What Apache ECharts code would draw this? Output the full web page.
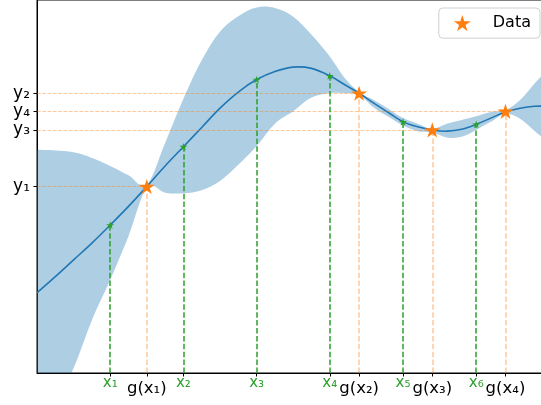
<!DOCTYPE html>
<html>
<head>
<meta charset="utf-8">
<script src="https://cdn.jsdelivr.net/npm/echarts@6/dist/echarts.min.js"></script>
<style>
  html, body { margin: 0; padding: 0; background: #fff; }
  #chart { width: 541px; height: 405px; }
</style>
</head>
<body>
<div id="chart"></div>
<script>
// Gaussian-process posterior: sample grid, mean and confidence band
const gpX     = [0, 0.25, 0.5, 0.75, 1, 1.25, 1.5, 1.75, 2, 2.25, 2.5, 2.75, 3, 3.25, 3.5, 3.75, 4, 4.2, 4.4, 4.6, 4.8, 5, 5.2, 5.4, 5.6, 5.8, 6, 6.2, 6.4, 6.6, 6.8, 7];
const gpMean  = [-1.71, -1.45, -1.18, -0.91, -0.62, -0.32, 0.00, 0.33, 0.64, 0.95, 1.26, 1.52, 1.72, 1.85, 1.92, 1.90, 1.78, 1.64, 1.50, 1.34, 1.19, 1.04, 0.96, 0.91, 0.89, 0.92, 1.00, 1.10, 1.20, 1.26, 1.29, 1.29];
const gpUpper = [0.59, 0.58, 0.55, 0.46, 0.33, 0.18, 0.03, 0.70, 1.41, 2.03, 2.49, 2.74, 2.88, 2.87, 2.73, 2.44, 2.09, 1.75, 1.52, 1.39, 1.25, 1.10, 1.01, 0.93, 1.01, 1.07, 1.13, 1.20, 1.23, 1.39, 1.66, 1.91];
const gpLower = [-4.01, -3.48, -2.92, -2.15, -1.50, -0.80, -0.03, -0.10, -0.11, -0.06, 0.09, 0.35, 0.65, 1.01, 1.21, 1.43, 1.50, 1.50, 1.47, 1.27, 1.12, 0.98, 0.89, 0.87, 0.79, 0.80, 0.91, 1.04, 1.17, 1.09, 0.89, 0.70];

// Query points x1..x6 on the mean curve
const queryX = [1, 2, 3, 4, 5, 6];
const queryY = [-0.62, 0.64, 1.72, 1.78, 1.04, 1.00];
const queryLabels = ['x\u2081', 'x\u2082', 'x\u2083', 'x\u2084', 'x\u2085', 'x\u2086'];

// Observed data g(x_i) = y_i
const dataX = [1.5, 4.4, 5.4, 6.4];
const dataY = [0.00, 1.50, 0.91, 1.21];
const dataXLabels = ['g(x\u2081)', 'g(x\u2082)', 'g(x\u2083)', 'g(x\u2084)'];
const dataYLabels = ['y\u2081', 'y\u2082', 'y\u2083', 'y\u2084'];

const X_MIN = 0, X_MAX = 7, Y_MIN = -3, Y_MAX = 3;

const BLUE = '#1f77b4', ORANGE = '#ff7f0e', GREEN = '#2ca02c';
const FONT = 'DejaVu Sans';

// five-pointed star marker
function starPath() {
  const R = 10, r = R * 0.381966;
  let d = '';
  for (let i = 0; i < 10; i++) {
    const a = -Math.PI / 2 + i * Math.PI / 5;
    const rad = i % 2 ? r : R;
    d += (i ? 'L' : 'M') + (R + rad * Math.cos(a)).toFixed(3) + ' ' + (R + rad * Math.sin(a)).toFixed(3);
  }
  return 'path://' + d + 'Z';
}
const STAR = starPath();

const near = (a, b) => Math.abs(a - b) < 1e-6;

const xTickValues = queryX.concat(dataX).sort((a, b) => a - b);

function xLabel(v) {
  let i = queryX.findIndex(q => near(q, v));
  if (i >= 0) return '{q|' + queryLabels[i] + '}';
  i = dataX.findIndex(q => near(q, v));
  if (i >= 0) return '{d|' + dataXLabels[i] + '}';
  return '';
}
function yLabel(v) {
  const i = dataY.findIndex(q => near(q, v));
  return i >= 0 ? dataYLabels[i] : '';
}

const bandRows = gpX.map((x, i) => [x, gpLower[i], gpUpper[i]]);

// smooth cubic segments through a list of pixel points
function smoothSegments(pts) {
  const t = 0.18;
  let d = '';
  for (let i = 0; i < pts.length - 1; i++) {
    const p0 = pts[Math.max(0, i - 1)], p1 = pts[i], p2 = pts[i + 1], p3 = pts[Math.min(pts.length - 1, i + 2)];
    const c1 = [p1[0] + (p2[0] - p0[0]) * t, p1[1] + (p2[1] - p0[1]) * t];
    const c2 = [p2[0] - (p3[0] - p1[0]) * t, p2[1] - (p3[1] - p1[1]) * t];
    d += 'C' + c1[0].toFixed(2) + ' ' + c1[1].toFixed(2) + ' ' + c2[0].toFixed(2) + ' ' + c2[1].toFixed(2) +
      ' ' + p2[0].toFixed(2) + ' ' + p2[1].toFixed(2);
  }
  return d;
}

// confidence band as one closed outline: upper edge forward, lower edge back
function renderBand(params, api) {
  if (params.dataIndex !== 0) return null;
  const upper = bandRows.map(r => api.coord([r[0], r[2]]));
  const lower = bandRows.map(r => api.coord([r[0], r[1]])).reverse();
  const d = 'M' + upper[0][0] + ' ' + upper[0][1] + smoothSegments(upper) +
    'L' + lower[0][0] + ' ' + lower[0][1] + smoothSegments(lower) + 'Z';
  return {
    type: 'path',
    shape: { pathData: d },
    style: { fill: 'rgba(31,119,180,0.36)', stroke: null }
  };
}

// posterior mean drawn with the same smoothing as the band
function renderMean(params, api) {
  if (params.dataIndex !== 0) return null;
  const pts = gpX.map((x, i) => api.coord([x, gpMean[i]]));
  return {
    type: 'path',
    shape: { pathData: 'M' + pts[0][0] + ' ' + pts[0][1] + smoothSegments(pts) },
    style: { fill: null, stroke: BLUE, lineWidth: 1.6, lineJoin: 'round' }
  };
}

const greenVerticals = queryX.map((x, i) => [{ coord: [x, Y_MIN] }, { coord: [x, queryY[i]] }]);
const orangeVerticals = dataX.map((x, i) => [{ coord: [x, Y_MIN] }, { coord: [x, dataY[i]] }]);
const orangeHorizontals = dataX.map((x, i) => [{ coord: [X_MIN, dataY[i]] }, { coord: [x, dataY[i]] }]);

function guide(name, lines, color, width, dash) {
  return {
    name, type: 'scatter', data: [], z: 3, silent: true,
    markLine: {
      silent: true, symbol: ['none', 'none'], animation: false,
      label: { show: false },
      emphasis: { disabled: true },
      lineStyle: { color, width, type: dash, opacity: 1 },
      data: lines
    }
  };
}

const chart = echarts.init(document.getElementById('chart'), null, { renderer: 'canvas' });
chart.setOption({
  animation: false,
  backgroundColor: '#fff',
  textStyle: { fontFamily: FONT },
  grid: {
    left: 37, top: 0, width: 512.4, height: 373,
    outerBoundsMode: 'none', containLabel: false,
    show: true, borderColor: '#000', borderWidth: 1, backgroundColor: 'transparent'
  },
  legend: {
    data: [{ name: 'Data', icon: STAR }],
    right: 1, top: 8,
    orient: 'horizontal',
    itemWidth: 17, itemHeight: 17,
    padding: [7, 9, 7, 15],
    borderColor: '#d0d0d0', borderWidth: 1, borderRadius: 4,
    backgroundColor: '#fff',
    selectedMode: false,
    textStyle: { fontSize: 16, color: '#000', fontFamily: FONT, padding: [0, 0, 0, 17] }
  },
  xAxis: {
    type: 'value', min: X_MIN, max: X_MAX,
    splitLine: { show: false },
    axisLine: { show: true, onZero: false, lineStyle: { color: '#000', width: 1 } },
    axisTick: { show: true, customValues: xTickValues, length: 3.5, lineStyle: { color: '#000', width: 1 } },
    axisLabel: {
      show: true, customValues: xTickValues, margin: 3,
      formatter: xLabel,
      rich: {
        q: { color: GREEN, fontSize: 15, fontFamily: FONT },
        d: { color: '#000', fontSize: 16.5, fontFamily: FONT, padding: [4, 0, 0, 0] }
      }
    }
  },
  yAxis: {
    type: 'value', min: Y_MIN, max: Y_MAX,
    splitLine: { show: false },
    axisLine: { show: true, onZero: false, lineStyle: { color: '#000', width: 1 } },
    axisTick: { show: true, customValues: dataY, length: 3.5, lineStyle: { color: '#000', width: 1 } },
    axisLabel: {
      show: true, customValues: dataY, margin: 7,
      formatter: yLabel, color: '#000', fontSize: 17, fontFamily: FONT
    }
  },
  series: [
    {
      name: 'band', type: 'custom', data: bandRows, renderItem: renderBand,
      clip: true, z: 1, silent: true,
      encode: { x: 0, y: [1, 2] }
    },
    guide('hguides', orangeHorizontals, 'rgba(255,127,14,0.42)', 1, [3.7, 1.6]),
    guide('oguides', orangeVerticals, 'rgba(255,127,14,0.42)', 1.5, [5.5, 2.4]),
    guide('gguides', greenVerticals, GREEN, 1.5, [5.5, 2.4]),
    {
      name: 'mean', type: 'custom', data: gpX.map((x, i) => [x, gpMean[i]]), renderItem: renderMean,
      clip: true, z: 4, silent: true, encode: { x: 0, y: 1 }
    },
    {
      name: 'queries', type: 'scatter', data: queryX.map((x, i) => [x, queryY[i]]),
      symbol: STAR, symbolSize: 8, symbolKeepAspect: true,
      itemStyle: { color: GREEN, opacity: 1 }, z: 5, silent: true
    },
    {
      name: 'Data', type: 'scatter', data: dataX.map((x, i) => [x, dataY[i]]),
      symbol: STAR, symbolSize: 16, symbolKeepAspect: true,
      itemStyle: { color: ORANGE, opacity: 1 }, z: 6, silent: true
    }
  ]
});
</script>
</body>
</html>
